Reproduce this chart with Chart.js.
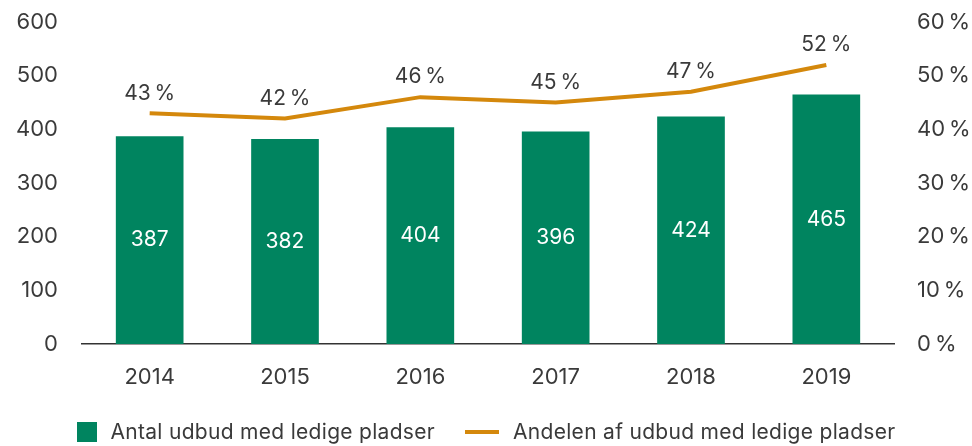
<!DOCTYPE html>
<html>
<head>
<meta charset="utf-8">
<script src="https://cdn.jsdelivr.net/npm/chart.js@4"></script>
<style>
  html, body { margin: 0; padding: 0; background: #fff; }
  #wrap { position: relative; width: 972px; height: 446px; }
  #legend {
    position: absolute; left: 0; top: 419px; width: 972px;
    display: flex; justify-content: center; align-items: center;
    font-family: Inter, sans-serif; font-size: 21px; letter-spacing: 0.3px; color: #3a3a3a;
  }
  .item { display: flex; align-items: center; margin: 0 15px; }
  .box { width: 20px; height: 20px; background: #00845f; margin-right: 14px; }
  .ln { width: 34px; height: 4px; background: #d4880c; margin-right: 14px; }
</style>
</head>
<body>
<div id="wrap">
  <canvas id="chart" width="972" height="446"></canvas>
  <div id="legend"></div>
</div>
<script>
// Data
const years = ['2014', '2015', '2016', '2017', '2018', '2019'];
const udbudCount = [387, 382, 404, 396, 424, 465];
const udbudShare = [43, 42, 46, 45, 47, 52];
const countTicks = [0, 100, 200, 300, 400, 500, 600];
const shareTicks = [0, 10, 20, 30, 40, 50, 60];

const barLabel = 'Antal udbud med ledige pladser';
const lineLabel = 'Andelen af udbud med ledige pladser';

const green = '#00845f';
const orange = '#d4880c';
const textColor = '#3a3a3a';
const fontFamily = 'Inter, sans-serif';
const pct = v => v + '\u2009%';

// Draw the value labels on bars and above the line points
const valueLabels = {
    id: 'valueLabels',
    afterDatasetsDraw(chart) {
        const ctx = chart.ctx;
        ctx.save();
        ctx.font = '21px ' + fontFamily;
        ctx.textAlign = 'center';
        ctx.textBaseline = 'middle';

        chart.getDatasetMeta(1).data.forEach((bar, i) => {
            ctx.fillStyle = '#fff';
            const mid = (bar.y + bar.base) / 2;
            ctx.fillText(udbudCount[i], bar.x, mid);
        });

        chart.getDatasetMeta(0).data.forEach((pt, i) => {
            ctx.fillStyle = textColor;
            ctx.fillText(pct(udbudShare[i]), pt.x, pt.y - 20);
        });
        ctx.restore();
    }
};

// keep the y axes from asking for extra room above/below the plot
function fixY(width) {
    return function (scale) {
        scale.width = width;
        scale.paddingTop = 0;
        scale.paddingBottom = 0;
    };
}

const ctx = document.getElementById('chart').getContext('2d');
new Chart(ctx, {
    data: {
        labels: years,
        datasets: [
            {
                type: 'line',
                label: lineLabel,
                data: udbudShare,
                yAxisID: 'yShare',
                borderColor: orange,
                borderWidth: 4,
                pointRadius: 0,
                tension: 0,
                order: 0
            },
            {
                type: 'bar',
                label: barLabel,
                data: udbudCount,
                yAxisID: 'yCount',
                backgroundColor: green,
                barPercentage: 0.5,
                categoryPercentage: 1,
                order: 1
            }
        ]
    },
    options: {
        responsive: false,
        animation: false,
        layout: { padding: { top: 22, bottom: 52, left: 0, right: 0 } },
        plugins: {
            legend: { display: false },
            tooltip: { enabled: false }
        },
        scales: {
            x: {
                grid: { display: false, drawTicks: false },
                border: { display: true, color: '#333', width: 1.5 },
                ticks: {
                    color: textColor,
                    font: { family: fontFamily, size: 22 },
                    padding: 20
                },
                afterFit(scale) {
                    scale.height = 50;
                    scale.paddingLeft = 0;
                    scale.paddingRight = 0;
                }
            },
            yCount: {
                position: 'left',
                min: 0,
                max: 600,
                grid: { display: false, drawTicks: false },
                border: { display: false },
                afterBuildTicks(scale) { scale.ticks = countTicks.map(v => ({ value: v })); },
                ticks: {
                    color: textColor,
                    font: { family: fontFamily, size: 22 },
                    padding: 24
                },
                afterFit: fixY(82)
            },
            yShare: {
                position: 'right',
                min: 0,
                max: 60,
                grid: { display: false, drawTicks: false },
                border: { display: false },
                afterBuildTicks(scale) { scale.ticks = shareTicks.map(v => ({ value: v })); },
                ticks: {
                    color: textColor,
                    font: { family: fontFamily, size: 22 },
                    padding: 23,
                    callback: v => pct(v)
                },
                afterFit: fixY(78)
            }
        }
    },
    plugins: [valueLabels]
});

// HTML legend below the chart
const legend = document.getElementById('legend');
legend.innerHTML = `
    <div class="item"><div class="box"></div><span>${barLabel}</span></div>
    <div class="item"><div class="ln"></div><span>${lineLabel}</span></div>
`;
</script>
</body>
</html>
